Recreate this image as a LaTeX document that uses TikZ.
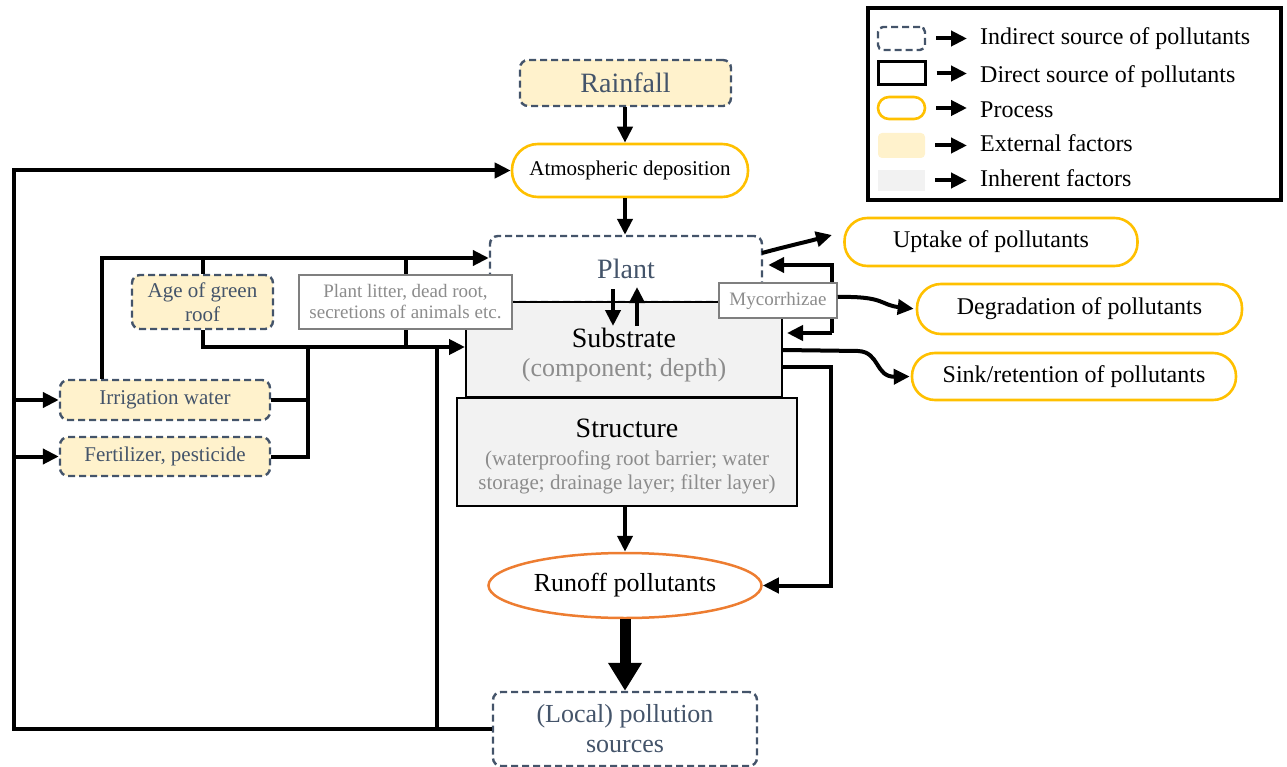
\documentclass[tikz,border=0pt]{standalone}
\usepackage{fontspec}
\setmainfont{Liberation Serif}
\usetikzlibrary{arrows.meta,shapes.geometric,calc}
\definecolor{slate}{HTML}{44546A}
\definecolor{extf}{HTML}{FFF2CC}
\definecolor{procc}{HTML}{FFC000}
\definecolor{inh}{HTML}{F2F2F2}
\definecolor{gtxt}{HTML}{8C8C8C}
\definecolor{gbrd}{HTML}{7F7F7F}
\definecolor{orng}{HTML}{ED7D31}
\newcommand{\fsz}[2]{\fontsize{#1}{#2}\selectfont}
\begin{document}
\begin{tikzpicture}[x=1pt,y=-1pt,
  every node/.style={inner sep=0pt},
  indirect/.style={draw=slate, dash pattern=on 7pt off 4pt, line width=2.4pt, rounded corners=8pt},
  proc/.style={draw=procc, line width=2.6pt},
  ln/.style={line width=4pt},
  arr/.style={line width=4pt, -{Triangle[length=16pt,width=15pt]}},
  big/.style={line width=11pt, -{Triangle[length=28pt,width=32pt]}},
  ltext/.style={anchor=base west, font=\fsz{24}{28}}
]
\useasboundingbox (0,0) rectangle (1287,767);

% coordinates for buses
\coordinate (cx) at (625,0);
\coordinate (topbus) at (0,258);
\coordinate (subbus) at (0,347);
\coordinate (lb) at (14,0);
\coordinate (vbus) at (308,0);
\coordinate (vb2) at (437,0);
\coordinate (m1) at (832,265);
\coordinate (m2) at (832,333);
\coordinate (la) at (967,0);

% main nodes
\node[indirect, fill=extf, minimum width=211pt, minimum height=46pt, text=slate, font=\fsz{28}{32}] (rain) at (625.5,83) {Rainfall};
\node[proc, rounded corners=26pt, minimum width=236pt, minimum height=53pt, font=\fsz{21}{24}] (atm) at (630,170.5) {Atmospheric deposition};
\node[indirect, fill=white, minimum width=272pt, minimum height=66pt, text=slate, font=\fsz{28}{32}] (plant) at (626,269) {Plant};
\node[draw, line width=2pt, fill=inh, minimum width=316pt, minimum height=95pt] (sub) at (624,349.5) {};
\node[font=\fsz{28}{32}] (subT) at (624,338) {Substrate};
\node[text=gtxt, font=\fsz{26}{30}] (subD) at (624,370) {(component; depth)};
\node[draw, line width=2pt, fill=inh, minimum width=340pt, minimum height=108pt] (struct) at (627,452) {};
\node[font=\fsz{28}{32}] (structT) at (627,428) {Structure};
\node[text=gtxt, font=\fsz{21}{24}, align=center] (structD) at (627,472) {(waterproofing root barrier; water\\storage; drainage layer; filter layer)};
\node[draw=gbrd, line width=2pt, fill=white, text=gtxt, align=center, font=\fsz{19}{21}, minimum width=213pt, minimum height=54pt] (litter) at (405.5,302) {Plant litter, dead root,\\secretions of animals etc.};
\node[indirect, fill=extf, text=slate, align=center, font=\fsz{21}{24}, minimum width=141pt, minimum height=54pt] (age) at (202.5,302) {Age of green\\roof};
\node[indirect, fill=extf, text=slate, font=\fsz{21}{24}, minimum width=210pt, minimum height=40pt] (irr) at (165,400) {Irrigation water};
\node[indirect, fill=extf, text=slate, font=\fsz{21}{24}, minimum width=210pt, minimum height=39pt] (fert) at (165,456.5) {Fertilizer, pesticide};
\node[proc, rounded corners=23pt, minimum width=293pt, minimum height=48pt, font=\fsz{24}{28}] (upt) at (991,242) {Uptake of pollutants};
\node[proc, rounded corners=24pt, minimum width=325pt, minimum height=50pt, font=\fsz{24}{28}] (deg) at (1079.5,309) {Degradation of pollutants};
\node[proc, rounded corners=23pt, minimum width=324pt, minimum height=47pt, font=\fsz{24}{28}] (sink) at (1074,376.5) {Sink/retention of pollutants};
\node[ellipse, draw=orng, line width=2.5pt, minimum width=273pt, minimum height=65pt, font=\fsz{26}{30}] (runoff) at (625,585.5) {Runoff pollutants};
\node[indirect, fill=white, text=slate, align=center, font=\fsz{26}{30}, minimum width=264pt, minimum height=74pt] (local) at (625,729) {(Local) pollution\\sources};

% connectors
\draw[arr] (rain.south -| cx) -- (atm.north -| cx);
\draw[arr] (atm.south -| cx) -- (plant.north -| cx);
\draw[arr] (local.west) -- (local.west -| lb) |- (atm.west);
\draw[arr] (lb |- irr.west) -- (irr.west);
\draw[arr] (lb |- fert.west) -- (fert.west);
\draw[ln] (local.west -| vb2) -- (vb2 |- subbus);
\draw[arr] ($(irr.north west)+(43,0)$) |- (plant.west |- topbus);
\draw[ln] (age.north) -- (age.north |- topbus);
\draw[ln] (litter.north) -- (litter.north |- topbus);
\draw[arr] (age.south) |- (sub.west |- subbus);
\draw[ln] (litter.south) -- (litter.south |- subbus);
\draw[ln] (irr.east) -- (irr.east -| vbus);
\draw[ln] (fert.east) -| (vbus |- subbus);
\draw[arr] (613,289) -- (613,326);
\draw[arr] (637,326) -- (637,287);
\coordinate (upstart) at (762,253);
\coordinate (uptip) at (832,235);
\draw[arr] (upstart) to[out=15,in=195] (uptip);
\draw[arr, shorten >=5pt] (m2) -- (m1) -- (plant.east |- m1);
\draw[arr, shorten >=4pt] (m2) -- (sub.east |- m2);
\node[draw=gbrd, line width=1.5pt, fill=white, text=gtxt, font=\fsz{19}{21}, minimum width=118pt, minimum height=35pt] (myc) at (778,300.5) {Mycorrhizae};
\draw[arr, shorten >=2pt] (myc.east |- 0,297) .. controls (885,296) and (880,305) .. (deg.west);
\draw[arr, shorten >=1pt] (sub.east |- 0,350) -- (858,351) .. controls (880,352) and (875,377) .. (sink.west);
\draw[arr] (sub.east |- 0,367) -- (831,367) |- (runoff.east);
\draw[arr] (runoff.north |- struct.south) -- (runoff.north);
\draw[big] (runoff.south) -- (local.north);

% legend
\node[draw, line width=4pt, minimum width=413pt, minimum height=192pt] (leg) at (1074.5,104) {};
\node[indirect, rounded corners=5pt, minimum width=47pt, minimum height=23pt] (ls1) at (901.5,38.5) {};
\node[draw, line width=3pt, minimum width=47pt, minimum height=23pt] (ls2) at (901.5,73.5) {};
\node[proc, rounded corners=11pt, minimum width=47pt, minimum height=22pt] (ls3) at (901.5,108) {};
\node[fill=extf, rounded corners=4pt, minimum width=47pt, minimum height=25pt] (ls4) at (901.5,145.5) {};
\node[fill=inh, minimum width=47pt, minimum height=21pt] (ls5) at (901.5,180.5) {};
\foreach \i in {1,...,5} {\draw[arr, shorten <=10pt] (ls\i.east) -- (ls\i.east -| la);}
\node[ltext] (lt1) at (980,45) {Indirect source of pollutants};
\node[ltext] (lt2) at (980,83) {Direct source of pollutants};
\node[ltext] (lt3) at (980,118) {Process};
\node[ltext] (lt4) at (980,152) {External factors};
\node[ltext] (lt5) at (980,187) {Inherent factors};
\end{tikzpicture}
\end{document}
